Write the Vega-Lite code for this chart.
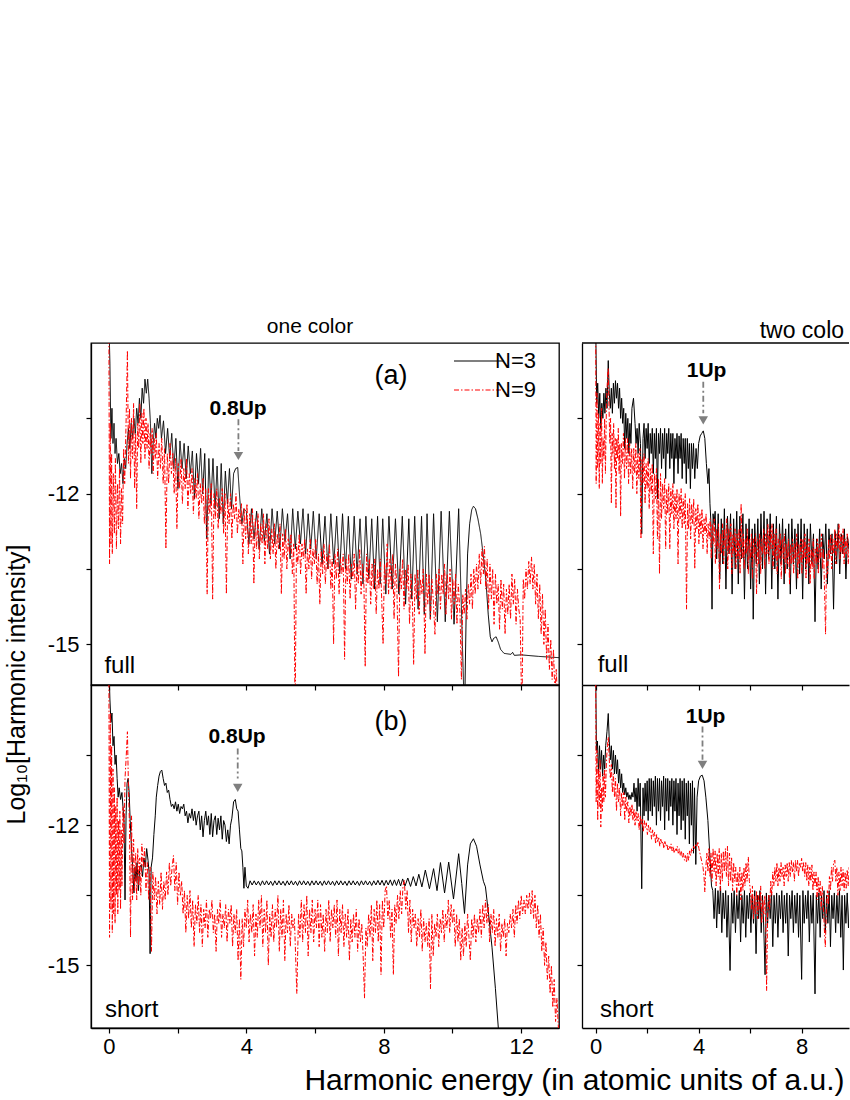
{
"$schema":"https://vega.github.io/schema/vega-lite/v6.json",
"background":"white",
"padding":{"top":315,"left":3,"right":0,"bottom":0},
"config":{
 "font":"Liberation Sans",
 "view":{"stroke":"black","strokeWidth":1.3},
 "axis":{"grid":false,"domainColor":"black","domainWidth":1.3,"tickColor":"black","tickWidth":1.2,"tickSize":5,"labelFont":"Liberation Sans","labelFontSize":22,"labelColor":"black","labelPadding":6,"titleFont":"Liberation Sans","titleFontWeight":"normal","titleColor":"black"},
 "title":{"font":"Liberation Sans","fontWeight":"normal","color":"black","fontSize":21},
 "legend":{"orient":"none","legendX":377,"legendY":7,"symbolType":"M-5,0H5","symbolSize":100,"symbolStrokeWidth":1.2,"labelFontSize":22,"labelFont":"Liberation Sans","labelColor":"black","labelOffset":5,"rowPadding":7,"padding":0}
},
"datasets":{
"a3":[{"x":0,"y":-8.5},{"x":0.03,"y":-9.4},{"x":0.06,"y":-10.9},{"x":0.09,"y":-10.3},{"x":0.12,"y":-11.0},{"x":0.15,"y":-10.6},{"x":0.18,"y":-11.2},{"x":0.21,"y":-10.9},{"x":0.25,"y":-11.4},{"x":0.29,"y":-11.2},{"x":0.33,"y":-11.6},{"x":0.37,"y":-11.4},{"x":0.41,"y":-11.8},{"x":0.45,"y":-11.3},{"x":0.49,"y":-11.5},{"x":0.53,"y":-11.0},{"x":0.57,"y":-10.7},{"x":0.61,"y":-11.1},{"x":0.65,"y":-10.6},{"x":0.69,"y":-10.9},{"x":0.73,"y":-10.5},{"x":0.77,"y":-10.8},{"x":0.81,"y":-10.3},{"x":0.85,"y":-10.6},{"x":0.89,"y":-10.1},{"x":0.93,"y":-10.5},{"x":0.97,"y":-9.9},{"x":1.01,"y":-10.2},{"x":1.05,"y":-9.72},{"x":1.09,"y":-10.0},{"x":1.13,"y":-9.72},{"x":1.17,"y":-10.1},{"x":1.21,"y":-10.6},{"x":1.25,"y":-11.6},{"x":1.29,"y":-11.0},{"x":1.33,"y":-10.6},{"x":1.37,"y":-10.9},{"x":1.41,"y":-10.5},{"x":1.45,"y":-10.7},{"x":1.49,"y":-10.44},{"x":1.53,"y":-10.9},{"x":1.59,"y":-10.55},{"x":1.65,"y":-11.2},{"x":1.71,"y":-10.7},{"x":1.77,"y":-11.3},{"x":1.83,"y":-10.8},{"x":1.89,"y":-11.5},{"x":1.95,"y":-10.9},{"x":2.01,"y":-11.9},{"x":2.07,"y":-10.95},{"x":2.13,"y":-11.5},{"x":2.19,"y":-11.0},{"x":2.25,"y":-11.7},{"x":2.31,"y":-11.05},{"x":2.37,"y":-11.6},{"x":2.43,"y":-11.15},{"x":2.49,"y":-12.1},{"x":2.55,"y":-11.2},{"x":2.61,"y":-11.8},{"x":2.67,"y":-11.1},{"x":2.73,"y":-12.0},{"x":2.79,"y":-11.2},{"x":2.85,"y":-12.9},{"x":2.91,"y":-11.3},{"x":2.97,"y":-12.2},{"x":3.03,"y":-11.3},{"x":3.09,"y":-12.3},{"x":3.15,"y":-11.45},{"x":3.21,"y":-12.5},{"x":3.27,"y":-11.4},{"x":3.33,"y":-12.6},{"x":3.39,"y":-11.55},{"x":3.45,"y":-12.2},{"x":3.51,"y":-11.5},{"x":3.57,"y":-12.3},{"x":3.63,"y":-11.6},{"x":3.69,"y":-11.5},{"x":3.75,"y":-11.48},{"x":3.81,"y":-12.1},{"x":3.87,"y":-12.6},{"x":3.93,"y":-12.3},{"x":4.0,"y":-12.35},{"x":4.075,"y":-13.0},{"x":4.15,"y":-12.3},{"x":4.225,"y":-12.9},{"x":4.3,"y":-12.35},{"x":4.375,"y":-13.1},{"x":4.45,"y":-12.3},{"x":4.525,"y":-12.95},{"x":4.6,"y":-12.4},{"x":4.675,"y":-13.2},{"x":4.75,"y":-12.3},{"x":4.825,"y":-13.0},{"x":4.9,"y":-12.35},{"x":4.975,"y":-13.1},{"x":5.05,"y":-12.3},{"x":5.125,"y":-12.95},{"x":5.2,"y":-12.4},{"x":5.275,"y":-13.3},{"x":5.35,"y":-12.3},{"x":5.425,"y":-13.1},{"x":5.5,"y":-12.35},{"x":5.575,"y":-13.0},{"x":5.65,"y":-12.3},{"x":5.725,"y":-13.2},{"x":5.8,"y":-12.4},{"x":5.875,"y":-13.1},{"x":5.95,"y":-12.35},{"x":6.035,"y":-13.3},{"x":6.12,"y":-12.4},{"x":6.205,"y":-13.4},{"x":6.29,"y":-12.45},{"x":6.375,"y":-13.5},{"x":6.46,"y":-12.4},{"x":6.545,"y":-13.4},{"x":6.63,"y":-12.45},{"x":6.715,"y":-13.6},{"x":6.8,"y":-12.4},{"x":6.885,"y":-13.5},{"x":6.97,"y":-12.45},{"x":7.055,"y":-13.7},{"x":7.14,"y":-12.45},{"x":7.225,"y":-13.6},{"x":7.31,"y":-12.5},{"x":7.395,"y":-13.8},{"x":7.48,"y":-12.45},{"x":7.565,"y":-13.7},{"x":7.65,"y":-12.5},{"x":7.735,"y":-13.9},{"x":7.82,"y":-12.45},{"x":7.895,"y":-13.8},{"x":7.97,"y":-12.5},{"x":8.06,"y":-14.0},{"x":8.15,"y":-12.45},{"x":8.245,"y":-13.9},{"x":8.34,"y":-12.5},{"x":8.44,"y":-14.0},{"x":8.54,"y":-12.45},{"x":8.635,"y":-14.2},{"x":8.73,"y":-12.5},{"x":8.815,"y":-14.1},{"x":8.9,"y":-12.45},{"x":9.0,"y":-14.3},{"x":9.1,"y":-12.45},{"x":9.18,"y":-14.4},{"x":9.26,"y":-12.4},{"x":9.355,"y":-14.5},{"x":9.45,"y":-12.4},{"x":9.56,"y":-14.55},{"x":9.67,"y":-12.35},{"x":9.79,"y":-14.55},{"x":9.91,"y":-12.35},{"x":10.045,"y":-14.6},{"x":10.18,"y":-12.3},{"x":10.35,"y":-16.5},{"x":10.4,"y":-14.3},{"x":10.44,"y":-13.2},{"x":10.5,"y":-12.6},{"x":10.56,"y":-12.32},{"x":10.61,"y":-12.25},{"x":10.67,"y":-12.3},{"x":10.74,"y":-12.5},{"x":10.82,"y":-12.8},{"x":10.9,"y":-13.25},{"x":10.97,"y":-13.7},{"x":11.04,"y":-14.4},{"x":11.1,"y":-14.85},{"x":11.15,"y":-14.95},{"x":11.2,"y":-14.88},{"x":11.27,"y":-14.85},{"x":11.33,"y":-14.95},{"x":11.4,"y":-15.1},{"x":11.5,"y":-15.18},{"x":11.7,"y":-15.2},{"x":11.75,"y":-15.16},{"x":11.8,"y":-15.22},{"x":12.0,"y":-15.21},{"x":12.5,"y":-15.24},{"x":13.2,"y":-15.27}],
"a9":[{"x":0,"y":-8.5},{"x":0.02,"y":-13.4},{"x":0.04,"y":-10.6},{"x":0.06,"y":-13.0},{"x":0.08,"y":-11.2},{"x":0.1,"y":-13.2},{"x":0.13,"y":-11.6},{"x":0.16,"y":-12.8},{"x":0.19,"y":-11.3},{"x":0.22,"y":-13.1},{"x":0.25,"y":-11.8},{"x":0.28,"y":-12.7},{"x":0.31,"y":-11.5},{"x":0.34,"y":-13.0},{"x":0.37,"y":-11.9},{"x":0.4,"y":-12.6},{"x":0.43,"y":-11.1},{"x":0.46,"y":-11.8},{"x":0.5,"y":-10.6},{"x":0.54,"y":-9.15},{"x":0.57,"y":-11.4},{"x":0.6,"y":-10.3},{"x":0.63,"y":-11.7},{"x":0.66,"y":-10.5},{"x":0.69,"y":-11.3},{"x":0.72,"y":-10.2},{"x":0.75,"y":-11.9},{"x":0.78,"y":-10.8},{"x":0.81,"y":-12.3},{"x":0.84,"y":-10.6},{"x":0.87,"y":-11.1},{"x":0.9,"y":-10.2},{"x":0.93,"y":-11.4},{"x":0.96,"y":-10.4},{"x":0.99,"y":-11.0},{"x":1.02,"y":-10.3},{"x":1.05,"y":-11.3},{"x":1.08,"y":-10.5},{"x":1.11,"y":-11.1},{"x":1.14,"y":-10.6},{"x":1.17,"y":-11.5},{"x":1.2,"y":-10.8},{"x":1.23,"y":-11.2},{"x":1.26,"y":-10.7},{"x":1.29,"y":-11.6},{"x":1.32,"y":-10.9},{"x":1.35,"y":-11.3},{"x":1.38,"y":-10.8},{"x":1.42,"y":-11.7},{"x":1.46,"y":-11.0},{"x":1.5,"y":-11.5},{"x":1.54,"y":-10.9},{"x":1.58,"y":-11.8},{"x":1.62,"y":-11.1},{"x":1.66,"y":-13.1},{"x":1.7,"y":-11.2},{"x":1.74,"y":-11.8},{"x":1.78,"y":-11.0},{"x":1.82,"y":-11.6},{"x":1.86,"y":-11.2},{"x":1.9,"y":-12.0},{"x":1.94,"y":-11.3},{"x":1.98,"y":-12.7},{"x":2.02,"y":-11.4},{"x":2.06,"y":-11.9},{"x":2.1,"y":-11.3},{"x":2.14,"y":-12.2},{"x":2.18,"y":-11.5},{"x":2.22,"y":-11.9},{"x":2.26,"y":-11.3},{"x":2.3,"y":-12.3},{"x":2.34,"y":-11.6},{"x":2.38,"y":-12.0},{"x":2.42,"y":-11.5},{"x":2.46,"y":-12.4},{"x":2.5,"y":-11.7},{"x":2.54,"y":-12.1},{"x":2.58,"y":-11.6},{"x":2.62,"y":-12.5},{"x":2.66,"y":-11.8},{"x":2.7,"y":-12.2},{"x":2.74,"y":-11.7},{"x":2.78,"y":-12.6},{"x":2.82,"y":-11.9},{"x":2.86,"y":-14.0},{"x":2.9,"y":-11.9},{"x":2.94,"y":-12.4},{"x":2.98,"y":-11.8},{"x":3.02,"y":-14.1},{"x":3.06,"y":-12.0},{"x":3.1,"y":-12.5},{"x":3.14,"y":-11.9},{"x":3.18,"y":-12.7},{"x":3.22,"y":-12.1},{"x":3.26,"y":-12.4},{"x":3.3,"y":-11.9},{"x":3.34,"y":-12.8},{"x":3.38,"y":-12.0},{"x":3.42,"y":-14.0},{"x":3.46,"y":-12.1},{"x":3.5,"y":-12.6},{"x":3.54,"y":-12.0},{"x":3.58,"y":-12.9},{"x":3.62,"y":-12.2},{"x":3.66,"y":-12.5},{"x":3.7,"y":-12.0},{"x":3.74,"y":-12.8},{"x":3.78,"y":-12.3},{"x":3.82,"y":-12.6},{"x":3.86,"y":-12.2},{"x":3.9,"y":-13.4},{"x":3.94,"y":-12.3},{"x":3.98,"y":-12.9},{"x":4.02,"y":-12.2},{"x":4.06,"y":-13.2},{"x":4.1,"y":-12.4},{"x":4.14,"y":-13.0},{"x":4.18,"y":-12.3},{"x":4.22,"y":-13.8},{"x":4.26,"y":-12.5},{"x":4.3,"y":-13.1},{"x":4.34,"y":-12.4},{"x":4.38,"y":-13.3},{"x":4.42,"y":-12.6},{"x":4.46,"y":-13.0},{"x":4.5,"y":-12.4},{"x":4.54,"y":-13.4},{"x":4.58,"y":-12.6},{"x":4.62,"y":-13.1},{"x":4.66,"y":-12.5},{"x":4.7,"y":-13.3},{"x":4.74,"y":-12.7},{"x":4.78,"y":-13.2},{"x":4.82,"y":-12.6},{"x":4.86,"y":-13.5},{"x":4.9,"y":-12.8},{"x":4.94,"y":-13.1},{"x":4.98,"y":-12.6},{"x":5.02,"y":-14.0},{"x":5.06,"y":-12.8},{"x":5.1,"y":-13.3},{"x":5.14,"y":-12.7},{"x":5.18,"y":-13.5},{"x":5.22,"y":-12.9},{"x":5.26,"y":-13.2},{"x":5.3,"y":-12.8},{"x":5.34,"y":-13.6},{"x":5.38,"y":-13.0},{"x":5.42,"y":-16.5},{"x":5.46,"y":-13.0},{"x":5.5,"y":-13.4},{"x":5.54,"y":-12.8},{"x":5.58,"y":-13.6},{"x":5.62,"y":-13.0},{"x":5.66,"y":-13.3},{"x":5.7,"y":-12.9},{"x":5.74,"y":-14.0},{"x":5.78,"y":-13.1},{"x":5.82,"y":-13.5},{"x":5.86,"y":-12.9},{"x":5.9,"y":-13.7},{"x":5.94,"y":-13.1},{"x":5.98,"y":-13.4},{"x":6.02,"y":-12.9},{"x":6.06,"y":-13.8},{"x":6.1,"y":-13.2},{"x":6.14,"y":-14.2},{"x":6.18,"y":-13.1},{"x":6.22,"y":-13.6},{"x":6.26,"y":-13.0},{"x":6.3,"y":-13.8},{"x":6.34,"y":-13.2},{"x":6.38,"y":-13.5},{"x":6.42,"y":-13.0},{"x":6.46,"y":-13.9},{"x":6.5,"y":-13.3},{"x":6.54,"y":-15.0},{"x":6.58,"y":-13.2},{"x":6.62,"y":-13.7},{"x":6.66,"y":-13.1},{"x":6.7,"y":-14.0},{"x":6.74,"y":-13.3},{"x":6.78,"y":-13.6},{"x":6.82,"y":-13.2},{"x":6.86,"y":-15.3},{"x":6.9,"y":-13.3},{"x":6.94,"y":-13.8},{"x":6.98,"y":-13.2},{"x":7.02,"y":-14.1},{"x":7.06,"y":-13.4},{"x":7.1,"y":-13.7},{"x":7.14,"y":-13.2},{"x":7.18,"y":-14.3},{"x":7.22,"y":-13.4},{"x":7.26,"y":-13.8},{"x":7.3,"y":-13.1},{"x":7.34,"y":-14.0},{"x":7.38,"y":-13.4},{"x":7.42,"y":-13.7},{"x":7.46,"y":-15.45},{"x":7.5,"y":-13.2},{"x":7.54,"y":-13.8},{"x":7.58,"y":-13.3},{"x":7.62,"y":-14.2},{"x":7.66,"y":-13.4},{"x":7.7,"y":-13.9},{"x":7.74,"y":-13.3},{"x":7.78,"y":-14.4},{"x":7.82,"y":-13.5},{"x":7.86,"y":-13.9},{"x":7.9,"y":-13.3},{"x":7.94,"y":-14.1},{"x":7.98,"y":-15.0},{"x":8.02,"y":-13.4},{"x":8.06,"y":-13.8},{"x":8.1,"y":-13.0},{"x":8.14,"y":-14.0},{"x":8.18,"y":-13.3},{"x":8.22,"y":-13.9},{"x":8.26,"y":-13.2},{"x":8.3,"y":-14.5},{"x":8.34,"y":-13.4},{"x":8.38,"y":-13.8},{"x":8.43,"y":-15.65},{"x":8.47,"y":-13.5},{"x":8.51,"y":-13.9},{"x":8.55,"y":-13.3},{"x":8.59,"y":-14.3},{"x":8.63,"y":-13.5},{"x":8.67,"y":-13.9},{"x":8.71,"y":-13.4},{"x":8.75,"y":-14.6},{"x":8.79,"y":-13.6},{"x":8.83,"y":-14.0},{"x":8.87,"y":-15.4},{"x":8.91,"y":-13.6},{"x":8.95,"y":-14.1},{"x":8.99,"y":-13.5},{"x":9.03,"y":-14.4},{"x":9.07,"y":-13.7},{"x":9.11,"y":-14.0},{"x":9.15,"y":-13.5},{"x":9.2,"y":-15.2},{"x":9.24,"y":-13.6},{"x":9.28,"y":-14.2},{"x":9.32,"y":-13.6},{"x":9.36,"y":-14.5},{"x":9.4,"y":-13.7},{"x":9.44,"y":-14.1},{"x":9.49,"y":-14.8},{"x":9.53,"y":-13.6},{"x":9.57,"y":-14.0},{"x":9.61,"y":-13.5},{"x":9.65,"y":-14.3},{"x":9.69,"y":-13.6},{"x":9.73,"y":-14.0},{"x":9.77,"y":-13.4},{"x":9.81,"y":-14.4},{"x":9.85,"y":-13.6},{"x":9.89,"y":-14.1},{"x":9.93,"y":-13.5},{"x":9.97,"y":-14.5},{"x":10.01,"y":-13.7},{"x":10.05,"y":-14.2},{"x":10.09,"y":-13.6},{"x":10.13,"y":-14.6},{"x":10.17,"y":-13.8},{"x":10.22,"y":-14.4},{"x":10.26,"y":-15.7},{"x":10.3,"y":-14.0},{"x":10.34,"y":-14.4},{"x":10.38,"y":-13.9},{"x":10.42,"y":-14.5},{"x":10.46,"y":-13.8},{"x":10.5,"y":-14.2},{"x":10.54,"y":-13.6},{"x":10.58,"y":-14.3},{"x":10.62,"y":-13.5},{"x":10.66,"y":-14.0},{"x":10.7,"y":-13.4},{"x":10.74,"y":-13.9},{"x":10.78,"y":-13.2},{"x":10.82,"y":-13.8},{"x":10.86,"y":-13.1},{"x":10.9,"y":-13.6},{"x":10.93,"y":-13.05},{"x":10.97,"y":-13.9},{"x":11.01,"y":-13.3},{"x":11.05,"y":-14.3},{"x":11.09,"y":-13.4},{"x":11.13,"y":-14.1},{"x":11.17,"y":-13.5},{"x":11.21,"y":-14.6},{"x":11.25,"y":-13.6},{"x":11.29,"y":-14.2},{"x":11.33,"y":-13.8},{"x":11.37,"y":-14.7},{"x":11.41,"y":-13.7},{"x":11.45,"y":-14.3},{"x":11.49,"y":-13.8},{"x":11.53,"y":-14.8},{"x":11.57,"y":-13.9},{"x":11.61,"y":-14.4},{"x":11.65,"y":-13.8},{"x":11.69,"y":-14.5},{"x":11.73,"y":-13.6},{"x":11.77,"y":-14.2},{"x":11.81,"y":-13.7},{"x":11.85,"y":-14.6},{"x":11.89,"y":-13.9},{"x":11.93,"y":-14.3},{"x":11.97,"y":-14.5},{"x":12.02,"y":-16.5},{"x":12.06,"y":-13.7},{"x":12.1,"y":-14.1},{"x":12.14,"y":-13.5},{"x":12.18,"y":-13.9},{"x":12.22,"y":-13.35},{"x":12.26,"y":-13.8},{"x":12.3,"y":-13.26},{"x":12.34,"y":-13.9},{"x":12.38,"y":-13.4},{"x":12.42,"y":-14.2},{"x":12.46,"y":-13.6},{"x":12.5,"y":-14.5},{"x":12.54,"y":-13.8},{"x":12.58,"y":-14.8},{"x":12.62,"y":-14.0},{"x":12.66,"y":-15.0},{"x":12.7,"y":-14.3},{"x":12.74,"y":-15.3},{"x":12.78,"y":-14.6},{"x":12.82,"y":-15.5},{"x":12.86,"y":-14.9},{"x":12.9,"y":-15.7},{"x":12.94,"y":-15.1},{"x":12.98,"y":-16.0},{"x":13.02,"y":-15.5},{"x":13.08,"y":-16.5}],
"b3":[{"x":0,"y":-8.5},{"x":0.03,"y":-9.3},{"x":0.06,"y":-9.8},{"x":0.09,"y":-9.6},{"x":0.12,"y":-10.3},{"x":0.15,"y":-10.1},{"x":0.18,"y":-10.7},{"x":0.21,"y":-10.5},{"x":0.24,"y":-11.0},{"x":0.27,"y":-11.4},{"x":0.3,"y":-11.2},{"x":0.34,"y":-11.45},{"x":0.38,"y":-11.3},{"x":0.41,"y":-11.6},{"x":0.44,"y":-11.9},{"x":0.47,"y":-13.6},{"x":0.5,"y":-11.8},{"x":0.53,"y":-11.1},{"x":0.56,"y":-11.0},{"x":0.59,"y":-11.3},{"x":0.62,"y":-11.9},{"x":0.66,"y":-12.5},{"x":0.7,"y":-13.0},{"x":0.73,"y":-13.45},{"x":0.76,"y":-12.9},{"x":0.79,"y":-13.2},{"x":0.82,"y":-12.8},{"x":0.86,"y":-13.4},{"x":0.9,"y":-12.9},{"x":0.94,"y":-12.85},{"x":0.98,"y":-13.1},{"x":1.02,"y":-12.7},{"x":1.06,"y":-12.9},{"x":1.1,"y":-12.5},{"x":1.14,"y":-12.75},{"x":1.17,"y":-13.0},{"x":1.2,"y":-14.75},{"x":1.23,"y":-12.9},{"x":1.27,"y":-12.7},{"x":1.31,"y":-12.2},{"x":1.35,"y":-11.8},{"x":1.38,"y":-11.4},{"x":1.42,"y":-11.15},{"x":1.46,"y":-10.95},{"x":1.5,"y":-10.85},{"x":1.54,"y":-10.82},{"x":1.58,"y":-11.0},{"x":1.62,"y":-11.15},{"x":1.66,"y":-11.1},{"x":1.7,"y":-11.3},{"x":1.74,"y":-11.25},{"x":1.78,"y":-11.45},{"x":1.82,"y":-11.6},{"x":1.86,"y":-11.55},{"x":1.9,"y":-11.65},{"x":1.94,"y":-11.5},{"x":1.98,"y":-11.7},{"x":2.02,"y":-11.55},{"x":2.06,"y":-11.75},{"x":2.1,"y":-11.6},{"x":2.14,"y":-11.65},{"x":2.18,"y":-11.55},{"x":2.22,"y":-11.8},{"x":2.26,"y":-11.7},{"x":2.3,"y":-11.95},{"x":2.34,"y":-11.75},{"x":2.38,"y":-11.85},{"x":2.42,"y":-11.65},{"x":2.46,"y":-11.9},{"x":2.5,"y":-11.7},{"x":2.54,"y":-12.0},{"x":2.58,"y":-11.8},{"x":2.62,"y":-11.7},{"x":2.66,"y":-12.1},{"x":2.7,"y":-11.8},{"x":2.74,"y":-12.25},{"x":2.78,"y":-11.9},{"x":2.82,"y":-11.7},{"x":2.86,"y":-12.0},{"x":2.9,"y":-11.8},{"x":2.94,"y":-12.2},{"x":2.98,"y":-11.75},{"x":3.02,"y":-12.25},{"x":3.06,"y":-11.9},{"x":3.1,"y":-11.8},{"x":3.14,"y":-12.2},{"x":3.18,"y":-11.85},{"x":3.22,"y":-12.1},{"x":3.26,"y":-11.8},{"x":3.3,"y":-12.3},{"x":3.34,"y":-11.9},{"x":3.38,"y":-12.0},{"x":3.42,"y":-12.35},{"x":3.46,"y":-12.1},{"x":3.5,"y":-12.4},{"x":3.54,"y":-12.0},{"x":3.58,"y":-11.85},{"x":3.63,"y":-11.5},{"x":3.68,"y":-11.45},{"x":3.72,"y":-11.65},{"x":3.76,"y":-11.7},{"x":3.8,"y":-12.1},{"x":3.84,"y":-12.5},{"x":3.87,"y":-12.55},{"x":3.9,"y":-12.9},{"x":3.93,"y":-13.35},{"x":3.96,"y":-12.9},{"x":4.0,"y":-13.3},{"x":4.05,"y":-13.35},{"x":4.11,"y":-13.19},{"x":4.17,"y":-13.28},{"x":4.23,"y":-13.19},{"x":4.29,"y":-13.28},{"x":4.35,"y":-13.2},{"x":4.41,"y":-13.29},{"x":4.47,"y":-13.19},{"x":4.53,"y":-13.28},{"x":4.59,"y":-13.19},{"x":4.65,"y":-13.28},{"x":4.71,"y":-13.2},{"x":4.77,"y":-13.29},{"x":4.83,"y":-13.19},{"x":4.89,"y":-13.28},{"x":4.95,"y":-13.19},{"x":5.01,"y":-13.28},{"x":5.07,"y":-13.2},{"x":5.13,"y":-13.29},{"x":5.19,"y":-13.19},{"x":5.25,"y":-13.28},{"x":5.31,"y":-13.19},{"x":5.37,"y":-13.28},{"x":5.43,"y":-13.2},{"x":5.49,"y":-13.29},{"x":5.55,"y":-13.19},{"x":5.61,"y":-13.28},{"x":5.67,"y":-13.19},{"x":5.73,"y":-13.28},{"x":5.79,"y":-13.2},{"x":5.85,"y":-13.29},{"x":5.91,"y":-13.19},{"x":5.97,"y":-13.28},{"x":6.03,"y":-13.19},{"x":6.09,"y":-13.28},{"x":6.15,"y":-13.2},{"x":6.21,"y":-13.29},{"x":6.27,"y":-13.19},{"x":6.33,"y":-13.28},{"x":6.39,"y":-13.19},{"x":6.45,"y":-13.28},{"x":6.51,"y":-13.2},{"x":6.57,"y":-13.29},{"x":6.63,"y":-13.19},{"x":6.69,"y":-13.28},{"x":6.75,"y":-13.19},{"x":6.81,"y":-13.28},{"x":6.87,"y":-13.2},{"x":6.93,"y":-13.29},{"x":6.99,"y":-13.19},{"x":7.05,"y":-13.28},{"x":7.11,"y":-13.19},{"x":7.17,"y":-13.28},{"x":7.23,"y":-13.2},{"x":7.29,"y":-13.29},{"x":7.35,"y":-13.19},{"x":7.41,"y":-13.28},{"x":7.47,"y":-13.19},{"x":7.53,"y":-13.28},{"x":7.59,"y":-13.2},{"x":7.65,"y":-13.29},{"x":7.71,"y":-13.19},{"x":7.77,"y":-13.28},{"x":7.83,"y":-13.18},{"x":7.89,"y":-13.28},{"x":7.95,"y":-13.18},{"x":8.01,"y":-13.29},{"x":8.07,"y":-13.18},{"x":8.13,"y":-13.28},{"x":8.19,"y":-13.17},{"x":8.25,"y":-13.29},{"x":8.31,"y":-13.17},{"x":8.37,"y":-13.29},{"x":8.43,"y":-13.16},{"x":8.49,"y":-13.3},{"x":8.55,"y":-13.15},{"x":8.62,"y":-13.3},{"x":8.7,"y":-13.13},{"x":8.78,"y":-13.31},{"x":8.86,"y":-13.1},{"x":8.94,"y":-13.3},{"x":9.02,"y":-13.05},{"x":9.11,"y":-13.32},{"x":9.21,"y":-12.96},{"x":9.33,"y":-13.36},{"x":9.45,"y":-12.93},{"x":9.55,"y":-13.4},{"x":9.65,"y":-12.8},{"x":9.77,"y":-13.45},{"x":9.89,"y":-12.79},{"x":10.03,"y":-13.58},{"x":10.18,"y":-12.61},{"x":10.27,"y":-13.25},{"x":10.35,"y":-13.89},{"x":10.44,"y":-12.85},{"x":10.52,"y":-12.4},{"x":10.61,"y":-12.29},{"x":10.7,"y":-12.45},{"x":10.8,"y":-12.85},{"x":10.9,"y":-13.2},{"x":10.96,"y":-13.32},{"x":11.05,"y":-13.9},{"x":11.15,"y":-14.61},{"x":11.25,"y":-15.5},{"x":11.34,"y":-16.4}],
"b9":[{"x":0,"y":-8.5},{"x":0.02,"y":-14.4},{"x":0.04,"y":-9.6},{"x":0.06,"y":-13.8},{"x":0.08,"y":-10.3},{"x":0.1,"y":-14.3},{"x":0.12,"y":-10.8},{"x":0.14,"y":-13.9},{"x":0.16,"y":-11.2},{"x":0.18,"y":-14.1},{"x":0.2,"y":-11.6},{"x":0.22,"y":-13.5},{"x":0.24,"y":-11.4},{"x":0.26,"y":-13.9},{"x":0.28,"y":-11.9},{"x":0.3,"y":-13.4},{"x":0.32,"y":-11.7},{"x":0.34,"y":-13.8},{"x":0.36,"y":-12.1},{"x":0.38,"y":-13.3},{"x":0.41,"y":-11.6},{"x":0.44,"y":-12.4},{"x":0.47,"y":-11.0},{"x":0.5,"y":-10.6},{"x":0.54,"y":-10.0},{"x":0.57,"y":-11.2},{"x":0.6,"y":-12.0},{"x":0.63,"y":-14.4},{"x":0.66,"y":-11.8},{"x":0.69,"y":-13.6},{"x":0.72,"y":-12.3},{"x":0.75,"y":-13.4},{"x":0.78,"y":-12.6},{"x":0.81,"y":-13.6},{"x":0.84,"y":-12.5},{"x":0.87,"y":-13.3},{"x":0.9,"y":-12.7},{"x":0.93,"y":-13.5},{"x":0.96,"y":-12.4},{"x":1.0,"y":-12.9},{"x":1.04,"y":-12.5},{"x":1.08,"y":-13.4},{"x":1.12,"y":-12.8},{"x":1.16,"y":-13.6},{"x":1.2,"y":-12.9},{"x":1.24,"y":-14.7},{"x":1.28,"y":-13.0},{"x":1.32,"y":-13.6},{"x":1.36,"y":-13.1},{"x":1.4,"y":-13.9},{"x":1.44,"y":-13.2},{"x":1.48,"y":-13.7},{"x":1.52,"y":-13.0},{"x":1.56,"y":-13.8},{"x":1.6,"y":-13.2},{"x":1.64,"y":-13.6},{"x":1.68,"y":-13.0},{"x":1.72,"y":-13.5},{"x":1.76,"y":-12.8},{"x":1.8,"y":-13.3},{"x":1.84,"y":-12.9},{"x":1.88,"y":-12.65},{"x":1.92,"y":-13.4},{"x":1.96,"y":-12.8},{"x":2.0,"y":-13.7},{"x":2.04,"y":-13.0},{"x":2.08,"y":-13.5},{"x":2.12,"y":-13.2},{"x":2.16,"y":-13.9},{"x":2.2,"y":-13.4},{"x":2.24,"y":-14.3},{"x":2.28,"y":-13.5},{"x":2.32,"y":-14.0},{"x":2.36,"y":-13.4},{"x":2.4,"y":-14.2},{"x":2.44,"y":-13.6},{"x":2.48,"y":-14.6},{"x":2.52,"y":-13.7},{"x":2.56,"y":-14.1},{"x":2.6,"y":-13.5},{"x":2.64,"y":-14.3},{"x":2.68,"y":-13.7},{"x":2.72,"y":-14.6},{"x":2.76,"y":-13.8},{"x":2.8,"y":-14.2},{"x":2.84,"y":-13.6},{"x":2.88,"y":-14.4},{"x":2.92,"y":-13.8},{"x":2.96,"y":-14.0},{"x":3.0,"y":-13.6},{"x":3.04,"y":-14.3},{"x":3.08,"y":-13.9},{"x":3.12,"y":-14.7},{"x":3.16,"y":-13.8},{"x":3.2,"y":-14.1},{"x":3.24,"y":-13.6},{"x":3.28,"y":-14.4},{"x":3.32,"y":-13.9},{"x":3.36,"y":-14.2},{"x":3.4,"y":-13.7},{"x":3.44,"y":-14.5},{"x":3.48,"y":-13.8},{"x":3.52,"y":-14.1},{"x":3.56,"y":-13.7},{"x":3.6,"y":-14.6},{"x":3.64,"y":-13.9},{"x":3.68,"y":-14.3},{"x":3.72,"y":-13.8},{"x":3.76,"y":-14.9},{"x":3.8,"y":-14.0},{"x":3.84,"y":-15.3},{"x":3.88,"y":-14.0},{"x":3.92,"y":-14.6},{"x":3.96,"y":-13.8},{"x":4.0,"y":-14.2},{"x":4.04,"y":-13.6},{"x":4.08,"y":-14.5},{"x":4.12,"y":-13.9},{"x":4.16,"y":-14.3},{"x":4.2,"y":-13.7},{"x":4.24,"y":-14.8},{"x":4.28,"y":-13.9},{"x":4.32,"y":-14.4},{"x":4.36,"y":-13.6},{"x":4.4,"y":-14.2},{"x":4.44,"y":-13.5},{"x":4.48,"y":-14.6},{"x":4.52,"y":-13.8},{"x":4.56,"y":-14.3},{"x":4.6,"y":-13.6},{"x":4.64,"y":-15.0},{"x":4.68,"y":-13.9},{"x":4.72,"y":-14.4},{"x":4.76,"y":-13.7},{"x":4.8,"y":-14.5},{"x":4.84,"y":-13.8},{"x":4.88,"y":-14.2},{"x":4.92,"y":-13.5},{"x":4.96,"y":-14.7},{"x":5.0,"y":-13.8},{"x":5.04,"y":-14.4},{"x":5.08,"y":-13.6},{"x":5.12,"y":-14.9},{"x":5.16,"y":-13.9},{"x":5.2,"y":-14.3},{"x":5.24,"y":-13.7},{"x":5.28,"y":-14.6},{"x":5.32,"y":-13.9},{"x":5.36,"y":-14.2},{"x":5.4,"y":-14.0},{"x":5.47,"y":-15.6},{"x":5.52,"y":-13.9},{"x":5.56,"y":-14.4},{"x":5.6,"y":-13.6},{"x":5.64,"y":-14.5},{"x":5.68,"y":-13.7},{"x":5.72,"y":-14.3},{"x":5.76,"y":-13.5},{"x":5.8,"y":-14.8},{"x":5.84,"y":-13.8},{"x":5.88,"y":-14.3},{"x":5.92,"y":-13.6},{"x":5.96,"y":-14.5},{"x":6.0,"y":-13.8},{"x":6.04,"y":-14.2},{"x":6.08,"y":-13.6},{"x":6.12,"y":-14.6},{"x":6.16,"y":-13.7},{"x":6.2,"y":-14.4},{"x":6.24,"y":-13.9},{"x":6.28,"y":-14.7},{"x":6.32,"y":-13.8},{"x":6.36,"y":-14.3},{"x":6.4,"y":-13.6},{"x":6.44,"y":-14.5},{"x":6.48,"y":-13.8},{"x":6.52,"y":-14.2},{"x":6.56,"y":-13.7},{"x":6.6,"y":-14.4},{"x":6.64,"y":-13.6},{"x":6.68,"y":-14.8},{"x":6.72,"y":-13.8},{"x":6.76,"y":-14.3},{"x":6.8,"y":-13.7},{"x":6.84,"y":-14.6},{"x":6.88,"y":-13.9},{"x":6.92,"y":-14.4},{"x":6.96,"y":-13.8},{"x":7.0,"y":-14.9},{"x":7.04,"y":-14.0},{"x":7.08,"y":-14.5},{"x":7.12,"y":-13.9},{"x":7.16,"y":-14.4},{"x":7.2,"y":-13.8},{"x":7.24,"y":-14.7},{"x":7.28,"y":-14.0},{"x":7.32,"y":-14.5},{"x":7.36,"y":-14.1},{"x":7.4,"y":-14.8},{"x":7.44,"y":-15.7},{"x":7.48,"y":-14.2},{"x":7.52,"y":-14.6},{"x":7.56,"y":-13.9},{"x":7.6,"y":-14.4},{"x":7.64,"y":-13.7},{"x":7.68,"y":-14.9},{"x":7.72,"y":-13.8},{"x":7.76,"y":-14.3},{"x":7.8,"y":-13.6},{"x":7.84,"y":-14.5},{"x":7.88,"y":-13.7},{"x":7.92,"y":-15.2},{"x":7.96,"y":-13.6},{"x":8.0,"y":-14.2},{"x":8.04,"y":-13.4},{"x":8.08,"y":-13.3},{"x":8.12,"y":-14.0},{"x":8.16,"y":-13.6},{"x":8.2,"y":-14.4},{"x":8.24,"y":-13.8},{"x":8.28,"y":-15.2},{"x":8.32,"y":-13.7},{"x":8.36,"y":-14.1},{"x":8.4,"y":-13.5},{"x":8.44,"y":-14.0},{"x":8.48,"y":-13.4},{"x":8.52,"y":-13.9},{"x":8.56,"y":-13.3},{"x":8.6,"y":-13.18},{"x":8.64,"y":-13.8},{"x":8.68,"y":-13.4},{"x":8.72,"y":-14.3},{"x":8.76,"y":-13.6},{"x":8.8,"y":-14.5},{"x":8.84,"y":-13.8},{"x":8.88,"y":-14.2},{"x":8.92,"y":-13.9},{"x":8.96,"y":-14.6},{"x":9.0,"y":-14.0},{"x":9.04,"y":-14.4},{"x":9.08,"y":-13.8},{"x":9.12,"y":-14.7},{"x":9.16,"y":-14.0},{"x":9.2,"y":-14.5},{"x":9.24,"y":-14.1},{"x":9.28,"y":-14.6},{"x":9.32,"y":-14.0},{"x":9.36,"y":-15.5},{"x":9.4,"y":-13.9},{"x":9.44,"y":-14.8},{"x":9.48,"y":-14.1},{"x":9.52,"y":-14.4},{"x":9.56,"y":-13.9},{"x":9.6,"y":-14.6},{"x":9.64,"y":-14.0},{"x":9.68,"y":-14.3},{"x":9.72,"y":-13.8},{"x":9.76,"y":-14.5},{"x":9.8,"y":-13.9},{"x":9.84,"y":-14.2},{"x":9.88,"y":-13.6},{"x":9.92,"y":-14.3},{"x":9.96,"y":-13.7},{"x":10.0,"y":-14.1},{"x":10.04,"y":-13.8},{"x":10.08,"y":-14.6},{"x":10.12,"y":-13.9},{"x":10.16,"y":-14.5},{"x":10.2,"y":-14.0},{"x":10.24,"y":-14.9},{"x":10.28,"y":-14.2},{"x":10.32,"y":-14.8},{"x":10.36,"y":-14.1},{"x":10.4,"y":-14.6},{"x":10.44,"y":-13.9},{"x":10.48,"y":-14.4},{"x":10.52,"y":-14.9},{"x":10.56,"y":-14.0},{"x":10.6,"y":-14.4},{"x":10.64,"y":-13.9},{"x":10.68,"y":-14.5},{"x":10.72,"y":-14.0},{"x":10.76,"y":-14.3},{"x":10.8,"y":-13.8},{"x":10.84,"y":-14.4},{"x":10.88,"y":-13.7},{"x":10.92,"y":-14.2},{"x":10.96,"y":-13.6},{"x":11.0,"y":-14.1},{"x":11.04,"y":-13.7},{"x":11.08,"y":-14.5},{"x":11.12,"y":-13.9},{"x":11.16,"y":-14.3},{"x":11.2,"y":-13.8},{"x":11.24,"y":-14.6},{"x":11.28,"y":-14.0},{"x":11.32,"y":-14.4},{"x":11.36,"y":-13.9},{"x":11.4,"y":-14.7},{"x":11.44,"y":-14.1},{"x":11.48,"y":-14.4},{"x":11.52,"y":-14.0},{"x":11.56,"y":-14.8},{"x":11.6,"y":-14.1},{"x":11.64,"y":-14.3},{"x":11.68,"y":-13.9},{"x":11.72,"y":-14.2},{"x":11.76,"y":-13.8},{"x":11.8,"y":-14.4},{"x":11.84,"y":-13.7},{"x":11.88,"y":-14.1},{"x":11.92,"y":-13.6},{"x":11.96,"y":-14.0},{"x":12.0,"y":-13.5},{"x":12.04,"y":-13.9},{"x":12.08,"y":-13.6},{"x":12.12,"y":-13.9},{"x":12.16,"y":-13.5},{"x":12.2,"y":-13.8},{"x":12.24,"y":-13.45},{"x":12.28,"y":-13.9},{"x":12.32,"y":-13.4},{"x":12.36,"y":-14.0},{"x":12.4,"y":-13.5},{"x":12.44,"y":-14.2},{"x":12.48,"y":-13.7},{"x":12.52,"y":-14.4},{"x":12.56,"y":-13.9},{"x":12.6,"y":-14.7},{"x":12.64,"y":-14.2},{"x":12.68,"y":-15.0},{"x":12.72,"y":-14.5},{"x":12.76,"y":-15.3},{"x":12.8,"y":-14.8},{"x":12.84,"y":-15.6},{"x":12.88,"y":-15.0},{"x":12.92,"y":-15.9},{"x":12.96,"y":-15.3},{"x":13.0,"y":-16.2},{"x":13.04,"y":-15.7},{"x":13.1,"y":-16.6}],
"c3":[{"x":0,"y":-8.5},{"x":0.04,"y":-10.2},{"x":0.08,"y":-9.8},{"x":0.12,"y":-10.5},{"x":0.16,"y":-10.0},{"x":0.2,"y":-10.7},{"x":0.24,"y":-10.2},{"x":0.28,"y":-10.5},{"x":0.32,"y":-10.0},{"x":0.36,"y":-10.4},{"x":0.4,"y":-9.9},{"x":0.44,"y":-10.3},{"x":0.49,"y":-9.35},{"x":0.53,"y":-10.0},{"x":0.57,"y":-10.3},{"x":0.61,"y":-9.9},{"x":0.65,"y":-10.4},{"x":0.69,"y":-9.8},{"x":0.73,"y":-10.2},{"x":0.77,"y":-9.75},{"x":0.81,"y":-10.1},{"x":0.85,"y":-9.8},{"x":0.89,"y":-10.3},{"x":0.93,"y":-9.9},{"x":0.97,"y":-10.5},{"x":1.01,"y":-10.1},{"x":1.05,"y":-10.6},{"x":1.09,"y":-10.3},{"x":1.13,"y":-11.1},{"x":1.17,"y":-10.4},{"x":1.21,"y":-10.9},{"x":1.25,"y":-10.5},{"x":1.29,"y":-11.2},{"x":1.33,"y":-10.6},{"x":1.37,"y":-11.0},{"x":1.41,"y":-10.3},{"x":1.47,"y":-10.1},{"x":1.53,"y":-10.6},{"x":1.57,"y":-11.0},{"x":1.61,"y":-10.7},{"x":1.65,"y":-11.2},{"x":1.69,"y":-10.6},{"x":1.74,"y":-11.0},{"x":1.79,"y":-12.8},{"x":1.84,"y":-10.9},{"x":1.88,"y":-10.6},{"x":1.92,"y":-11.3},{"x":1.96,"y":-10.7},{"x":2.0,"y":-11.1},{"x":2.04,"y":-10.6},{"x":2.08,"y":-11.4},{"x":2.12,"y":-10.8},{"x":2.16,"y":-11.2},{"x":2.2,"y":-10.7},{"x":2.24,"y":-11.6},{"x":2.28,"y":-10.8},{"x":2.32,"y":-11.3},{"x":2.36,"y":-10.7},{"x":2.4,"y":-12.1},{"x":2.44,"y":-10.8},{"x":2.48,"y":-11.2},{"x":2.52,"y":-10.7},{"x":2.56,"y":-11.5},{"x":2.6,"y":-10.8},{"x":2.64,"y":-11.3},{"x":2.68,"y":-10.7},{"x":2.72,"y":-11.7},{"x":2.76,"y":-10.8},{"x":2.8,"y":-11.2},{"x":2.84,"y":-10.7},{"x":2.88,"y":-11.5},{"x":2.92,"y":-10.8},{"x":2.96,"y":-11.3},{"x":3.0,"y":-10.8},{"x":3.04,"y":-11.8},{"x":3.08,"y":-10.9},{"x":3.12,"y":-11.3},{"x":3.16,"y":-10.8},{"x":3.2,"y":-11.6},{"x":3.24,"y":-10.85},{"x":3.28,"y":-11.3},{"x":3.32,"y":-10.8},{"x":3.36,"y":-11.7},{"x":3.4,"y":-10.9},{"x":3.44,"y":-11.4},{"x":3.48,"y":-10.9},{"x":3.52,"y":-11.8},{"x":3.56,"y":-10.9},{"x":3.6,"y":-11.5},{"x":3.64,"y":-11.0},{"x":3.68,"y":-11.9},{"x":3.72,"y":-11.0},{"x":3.76,"y":-11.5},{"x":3.8,"y":-11.0},{"x":3.85,"y":-11.7},{"x":3.9,"y":-11.1},{"x":3.95,"y":-11.5},{"x":4.0,"y":-11.0},{"x":4.06,"y":-10.85},{"x":4.12,"y":-10.8},{"x":4.18,"y":-10.75},{"x":4.24,"y":-10.9},{"x":4.3,"y":-11.4},{"x":4.36,"y":-11.8},{"x":4.4,"y":-11.5},{"x":4.44,"y":-12.2},{"x":4.48,"y":-12.6},{"x":4.52,"y":-14.3},{"x":4.56,"y":-12.4},{"x":4.6,"y":-12.6},{"x":4.64,"y":-12.35},{"x":4.7,"y":-13.3},{"x":4.76,"y":-12.4},{"x":4.82,"y":-13.7},{"x":4.88,"y":-12.5},{"x":4.94,"y":-13.4},{"x":5.0,"y":-12.3},{"x":5.06,"y":-13.9},{"x":5.12,"y":-12.45},{"x":5.18,"y":-13.2},{"x":5.24,"y":-12.4},{"x":5.3,"y":-14.0},{"x":5.36,"y":-12.5},{"x":5.42,"y":-13.5},{"x":5.48,"y":-12.35},{"x":5.54,"y":-13.8},{"x":5.6,"y":-12.45},{"x":5.66,"y":-13.3},{"x":5.72,"y":-12.4},{"x":5.78,"y":-14.1},{"x":5.84,"y":-12.6},{"x":5.9,"y":-13.5},{"x":5.96,"y":-12.5},{"x":6.02,"y":-13.9},{"x":6.08,"y":-12.7},{"x":6.12,"y":-14.5},{"x":6.18,"y":-12.6},{"x":6.24,"y":-13.4},{"x":6.3,"y":-12.5},{"x":6.36,"y":-13.8},{"x":6.42,"y":-12.4},{"x":6.48,"y":-13.5},{"x":6.54,"y":-12.35},{"x":6.6,"y":-14.0},{"x":6.66,"y":-12.5},{"x":6.72,"y":-13.3},{"x":6.78,"y":-12.4},{"x":6.84,"y":-13.9},{"x":6.9,"y":-12.6},{"x":6.96,"y":-13.5},{"x":7.02,"y":-12.45},{"x":7.08,"y":-14.1},{"x":7.14,"y":-12.6},{"x":7.2,"y":-13.4},{"x":7.26,"y":-12.5},{"x":7.32,"y":-13.8},{"x":7.38,"y":-12.7},{"x":7.44,"y":-13.5},{"x":7.5,"y":-12.6},{"x":7.56,"y":-14.0},{"x":7.62,"y":-12.5},{"x":7.68,"y":-13.4},{"x":7.74,"y":-12.7},{"x":7.8,"y":-13.9},{"x":7.86,"y":-12.6},{"x":7.92,"y":-13.6},{"x":7.98,"y":-12.5},{"x":8.04,"y":-14.1},{"x":8.1,"y":-12.6},{"x":8.16,"y":-13.5},{"x":8.22,"y":-12.7},{"x":8.28,"y":-13.8},{"x":8.34,"y":-12.6},{"x":8.4,"y":-13.4},{"x":8.46,"y":-12.8},{"x":8.52,"y":-14.55},{"x":8.58,"y":-12.9},{"x":8.64,"y":-13.5},{"x":8.7,"y":-12.7},{"x":8.76,"y":-13.9},{"x":8.82,"y":-12.8},{"x":8.88,"y":-13.3},{"x":8.94,"y":-12.6},{"x":9.0,"y":-13.8},{"x":9.06,"y":-12.7},{"x":9.12,"y":-13.2},{"x":9.18,"y":-12.8},{"x":9.24,"y":-14.3},{"x":9.3,"y":-12.75},{"x":9.36,"y":-13.4},{"x":9.42,"y":-12.6},{"x":9.48,"y":-13.6},{"x":9.54,"y":-12.8},{"x":9.6,"y":-13.2},{"x":9.66,"y":-12.7},{"x":9.72,"y":-13.7},{"x":9.78,"y":-12.85},{"x":9.84,"y":-13.1},{"x":9.9,"y":-12.8},{"x":9.96,"y":-13.3},{"x":10.02,"y":-12.7}],
"c9":[{"x":0,"y":-8.5},{"x":0.02,"y":-11.8},{"x":0.05,"y":-10.0},{"x":0.08,"y":-11.5},{"x":0.11,"y":-10.4},{"x":0.14,"y":-11.9},{"x":0.17,"y":-10.6},{"x":0.2,"y":-11.4},{"x":0.23,"y":-10.3},{"x":0.26,"y":-11.8},{"x":0.29,"y":-10.9},{"x":0.32,"y":-11.3},{"x":0.35,"y":-10.5},{"x":0.38,"y":-11.6},{"x":0.42,"y":-10.2},{"x":0.46,"y":-9.7},{"x":0.49,"y":-9.5},{"x":0.52,"y":-10.3},{"x":0.55,"y":-11.0},{"x":0.58,"y":-10.5},{"x":0.61,"y":-12.2},{"x":0.64,"y":-10.8},{"x":0.67,"y":-11.2},{"x":0.7,"y":-10.6},{"x":0.73,"y":-11.5},{"x":0.76,"y":-10.9},{"x":0.79,"y":-12.3},{"x":0.82,"y":-10.9},{"x":0.85,"y":-11.3},{"x":0.88,"y":-10.7},{"x":0.91,"y":-11.6},{"x":0.94,"y":-11.0},{"x":0.97,"y":-12.45},{"x":1.0,"y":-11.0},{"x":1.04,"y":-11.4},{"x":1.08,"y":-10.8},{"x":1.12,"y":-11.7},{"x":1.16,"y":-10.9},{"x":1.2,"y":-11.5},{"x":1.24,"y":-10.9},{"x":1.28,"y":-11.8},{"x":1.32,"y":-11.0},{"x":1.36,"y":-11.6},{"x":1.4,"y":-11.1},{"x":1.44,"y":-11.9},{"x":1.48,"y":-11.1},{"x":1.52,"y":-11.6},{"x":1.56,"y":-11.0},{"x":1.6,"y":-12.0},{"x":1.64,"y":-11.2},{"x":1.68,"y":-11.7},{"x":1.72,"y":-11.1},{"x":1.76,"y":-12.9},{"x":1.8,"y":-11.3},{"x":1.84,"y":-11.8},{"x":1.88,"y":-11.2},{"x":1.92,"y":-12.2},{"x":1.96,"y":-11.4},{"x":2.0,"y":-11.9},{"x":2.04,"y":-11.3},{"x":2.08,"y":-12.3},{"x":2.12,"y":-11.5},{"x":2.16,"y":-12.0},{"x":2.2,"y":-11.4},{"x":2.24,"y":-13.2},{"x":2.28,"y":-11.6},{"x":2.32,"y":-12.1},{"x":2.36,"y":-11.5},{"x":2.4,"y":-12.9},{"x":2.44,"y":-11.7},{"x":2.48,"y":-13.6},{"x":2.52,"y":-11.6},{"x":2.56,"y":-12.5},{"x":2.6,"y":-11.8},{"x":2.64,"y":-12.3},{"x":2.68,"y":-11.7},{"x":2.72,"y":-13.1},{"x":2.76,"y":-11.9},{"x":2.8,"y":-12.4},{"x":2.84,"y":-11.8},{"x":2.88,"y":-13.1},{"x":2.92,"y":-11.9},{"x":2.96,"y":-12.4},{"x":3.0,"y":-11.8},{"x":3.04,"y":-12.7},{"x":3.08,"y":-12.0},{"x":3.12,"y":-12.5},{"x":3.16,"y":-11.9},{"x":3.2,"y":-13.4},{"x":3.24,"y":-12.0},{"x":3.28,"y":-12.5},{"x":3.32,"y":-11.9},{"x":3.36,"y":-12.7},{"x":3.4,"y":-12.1},{"x":3.44,"y":-12.6},{"x":3.48,"y":-12.0},{"x":3.53,"y":-14.3},{"x":3.57,"y":-12.2},{"x":3.61,"y":-12.7},{"x":3.65,"y":-12.1},{"x":3.69,"y":-12.9},{"x":3.73,"y":-12.2},{"x":3.77,"y":-12.6},{"x":3.81,"y":-12.1},{"x":3.85,"y":-13.5},{"x":3.89,"y":-12.3},{"x":3.93,"y":-12.7},{"x":3.97,"y":-12.2},{"x":4.01,"y":-13.0},{"x":4.05,"y":-12.4},{"x":4.09,"y":-12.8},{"x":4.13,"y":-12.3},{"x":4.17,"y":-13.1},{"x":4.21,"y":-12.5},{"x":4.25,"y":-12.8},{"x":4.29,"y":-12.4},{"x":4.33,"y":-13.2},{"x":4.37,"y":-12.6},{"x":4.41,"y":-12.9},{"x":4.45,"y":-12.5},{"x":4.49,"y":-13.3},{"x":4.53,"y":-12.6},{"x":4.57,"y":-13.0},{"x":4.61,"y":-12.5},{"x":4.65,"y":-13.4},{"x":4.69,"y":-12.7},{"x":4.73,"y":-13.1},{"x":4.77,"y":-12.6},{"x":4.81,"y":-13.9},{"x":4.85,"y":-12.8},{"x":4.89,"y":-13.2},{"x":4.93,"y":-12.6},{"x":4.97,"y":-13.4},{"x":5.01,"y":-12.7},{"x":5.05,"y":-13.1},{"x":5.09,"y":-12.5},{"x":5.13,"y":-13.5},{"x":5.17,"y":-12.7},{"x":5.21,"y":-13.2},{"x":5.25,"y":-12.6},{"x":5.29,"y":-13.6},{"x":5.33,"y":-12.8},{"x":5.37,"y":-13.2},{"x":5.41,"y":-12.7},{"x":5.45,"y":-13.5},{"x":5.49,"y":-12.8},{"x":5.53,"y":-13.3},{"x":5.57,"y":-12.7},{"x":5.61,"y":-13.6},{"x":5.65,"y":-12.2},{"x":5.69,"y":-13.3},{"x":5.73,"y":-12.8},{"x":5.77,"y":-13.5},{"x":5.81,"y":-12.9},{"x":5.85,"y":-13.2},{"x":5.89,"y":-12.7},{"x":5.93,"y":-13.6},{"x":5.97,"y":-12.9},{"x":6.01,"y":-13.3},{"x":6.05,"y":-12.8},{"x":6.09,"y":-13.7},{"x":6.13,"y":-12.9},{"x":6.17,"y":-13.3},{"x":6.21,"y":-12.8},{"x":6.25,"y":-14.0},{"x":6.29,"y":-12.9},{"x":6.33,"y":-13.4},{"x":6.37,"y":-12.8},{"x":6.41,"y":-13.6},{"x":6.45,"y":-12.9},{"x":6.49,"y":-13.2},{"x":6.53,"y":-12.7},{"x":6.57,"y":-13.5},{"x":6.61,"y":-12.8},{"x":6.65,"y":-13.2},{"x":6.69,"y":-12.6},{"x":6.73,"y":-13.4},{"x":6.77,"y":-12.7},{"x":6.81,"y":-13.1},{"x":6.85,"y":-12.6},{"x":6.89,"y":-13.5},{"x":6.93,"y":-12.8},{"x":6.97,"y":-13.3},{"x":7.01,"y":-12.7},{"x":7.05,"y":-13.6},{"x":7.09,"y":-12.9},{"x":7.13,"y":-13.3},{"x":7.17,"y":-12.8},{"x":7.21,"y":-13.7},{"x":7.25,"y":-12.9},{"x":7.29,"y":-13.3},{"x":7.33,"y":-12.8},{"x":7.37,"y":-13.6},{"x":7.41,"y":-13.0},{"x":7.45,"y":-13.4},{"x":7.49,"y":-12.9},{"x":7.53,"y":-13.8},{"x":7.57,"y":-13.0},{"x":7.61,"y":-13.4},{"x":7.65,"y":-12.9},{"x":7.69,"y":-13.6},{"x":7.73,"y":-13.0},{"x":7.77,"y":-13.3},{"x":7.81,"y":-12.8},{"x":7.85,"y":-13.7},{"x":7.89,"y":-13.0},{"x":7.93,"y":-13.4},{"x":7.97,"y":-12.9},{"x":8.01,"y":-13.6},{"x":8.05,"y":-12.9},{"x":8.09,"y":-13.3},{"x":8.13,"y":-12.8},{"x":8.17,"y":-13.7},{"x":8.21,"y":-13.0},{"x":8.25,"y":-13.4},{"x":8.29,"y":-12.9},{"x":8.33,"y":-13.8},{"x":8.37,"y":-13.1},{"x":8.41,"y":-13.5},{"x":8.45,"y":-12.9},{"x":8.49,"y":-13.7},{"x":8.53,"y":-13.1},{"x":8.57,"y":-13.4},{"x":8.61,"y":-12.9},{"x":8.65,"y":-13.6},{"x":8.69,"y":-13.0},{"x":8.73,"y":-13.3},{"x":8.77,"y":-12.8},{"x":8.81,"y":-13.5},{"x":8.85,"y":-13.1},{"x":8.89,"y":-13.9},{"x":8.93,"y":-14.8},{"x":8.97,"y":-13.2},{"x":9.01,"y":-13.6},{"x":9.05,"y":-12.9},{"x":9.09,"y":-13.3},{"x":9.13,"y":-12.8},{"x":9.17,"y":-13.5},{"x":9.21,"y":-12.9},{"x":9.25,"y":-13.2},{"x":9.29,"y":-12.7},{"x":9.33,"y":-13.4},{"x":9.37,"y":-12.8},{"x":9.41,"y":-13.1},{"x":9.45,"y":-12.6},{"x":9.49,"y":-13.3},{"x":9.53,"y":-12.8},{"x":9.57,"y":-13.2},{"x":9.61,"y":-12.7},{"x":9.65,"y":-13.4},{"x":9.69,"y":-12.9},{"x":9.73,"y":-13.2},{"x":9.77,"y":-12.8},{"x":9.81,"y":-13.4},{"x":9.85,"y":-12.9},{"x":9.89,"y":-13.2},{"x":9.93,"y":-12.8},{"x":9.97,"y":-13.3},{"x":10.01,"y":-12.9}],
"d3":[{"x":0,"y":-8.5},{"x":0.03,"y":-10.4},{"x":0.07,"y":-10.2},{"x":0.11,"y":-10.9},{"x":0.15,"y":-10.3},{"x":0.19,"y":-10.8},{"x":0.23,"y":-10.4},{"x":0.27,"y":-10.95},{"x":0.31,"y":-10.5},{"x":0.35,"y":-10.8},{"x":0.39,"y":-10.3},{"x":0.44,"y":-10.0},{"x":0.49,"y":-9.61},{"x":0.53,"y":-10.2},{"x":0.57,"y":-10.6},{"x":0.61,"y":-10.3},{"x":0.65,"y":-10.8},{"x":0.69,"y":-10.4},{"x":0.73,"y":-10.9},{"x":0.77,"y":-10.5},{"x":0.81,"y":-10.9},{"x":0.85,"y":-10.6},{"x":0.89,"y":-11.1},{"x":0.93,"y":-10.8},{"x":0.97,"y":-11.2},{"x":1.01,"y":-10.9},{"x":1.05,"y":-11.3},{"x":1.09,"y":-11.1},{"x":1.13,"y":-11.35},{"x":1.17,"y":-11.2},{"x":1.21,"y":-11.4},{"x":1.25,"y":-11.3},{"x":1.29,"y":-11.45},{"x":1.33,"y":-11.35},{"x":1.37,"y":-11.45},{"x":1.41,"y":-11.3},{"x":1.45,"y":-11.4},{"x":1.49,"y":-11.1},{"x":1.53,"y":-11.5},{"x":1.57,"y":-11.2},{"x":1.61,"y":-11.7},{"x":1.65,"y":-11.0},{"x":1.69,"y":-11.6},{"x":1.73,"y":-11.1},{"x":1.79,"y":-13.36},{"x":1.84,"y":-11.2},{"x":1.88,"y":-11.8},{"x":1.92,"y":-11.1},{"x":1.96,"y":-11.7},{"x":2.0,"y":-11.05},{"x":2.04,"y":-11.9},{"x":2.08,"y":-11.0},{"x":2.12,"y":-11.7},{"x":2.16,"y":-11.0},{"x":2.2,"y":-11.8},{"x":2.24,"y":-11.05},{"x":2.28,"y":-11.6},{"x":2.32,"y":-10.95},{"x":2.36,"y":-12.0},{"x":2.4,"y":-11.0},{"x":2.44,"y":-11.7},{"x":2.48,"y":-11.0},{"x":2.52,"y":-11.9},{"x":2.56,"y":-11.05},{"x":2.6,"y":-11.6},{"x":2.64,"y":-10.95},{"x":2.68,"y":-12.1},{"x":2.72,"y":-11.0},{"x":2.76,"y":-11.7},{"x":2.8,"y":-11.0},{"x":2.84,"y":-11.9},{"x":2.88,"y":-11.05},{"x":2.92,"y":-11.6},{"x":2.96,"y":-11.0},{"x":3.0,"y":-12.0},{"x":3.04,"y":-11.05},{"x":3.08,"y":-11.7},{"x":3.12,"y":-11.0},{"x":3.16,"y":-12.2},{"x":3.2,"y":-11.1},{"x":3.24,"y":-11.8},{"x":3.28,"y":-11.0},{"x":3.32,"y":-12.1},{"x":3.36,"y":-11.05},{"x":3.4,"y":-11.9},{"x":3.44,"y":-11.0},{"x":3.48,"y":-12.3},{"x":3.52,"y":-11.1},{"x":3.56,"y":-11.8},{"x":3.6,"y":-11.05},{"x":3.64,"y":-12.4},{"x":3.68,"y":-11.1},{"x":3.72,"y":-12.0},{"x":3.76,"y":-11.05},{"x":3.8,"y":-12.6},{"x":3.84,"y":-11.2},{"x":3.89,"y":-12.84},{"x":3.94,"y":-11.4},{"x":4.0,"y":-11.05},{"x":4.07,"y":-10.95},{"x":4.14,"y":-10.93},{"x":4.21,"y":-11.05},{"x":4.28,"y":-11.4},{"x":4.36,"y":-11.9},{"x":4.43,"y":-12.6},{"x":4.5,"y":-13.3},{"x":4.55,"y":-13.4},{"x":4.6,"y":-14.0},{"x":4.65,"y":-13.35},{"x":4.7,"y":-14.2},{"x":4.75,"y":-13.4},{"x":4.8,"y":-13.9},{"x":4.85,"y":-13.3},{"x":4.9,"y":-14.3},{"x":4.95,"y":-13.45},{"x":5.0,"y":-14.0},{"x":5.05,"y":-13.4},{"x":5.1,"y":-14.4},{"x":5.15,"y":-13.5},{"x":5.22,"y":-15.11},{"x":5.28,"y":-13.45},{"x":5.33,"y":-14.1},{"x":5.38,"y":-13.4},{"x":5.43,"y":-14.3},{"x":5.48,"y":-13.5},{"x":5.53,"y":-14.0},{"x":5.58,"y":-13.4},{"x":5.63,"y":-14.5},{"x":5.68,"y":-13.5},{"x":5.73,"y":-14.1},{"x":5.78,"y":-13.4},{"x":5.83,"y":-14.4},{"x":5.88,"y":-13.5},{"x":5.93,"y":-14.0},{"x":5.98,"y":-13.45},{"x":6.03,"y":-14.3},{"x":6.08,"y":-13.5},{"x":6.13,"y":-14.1},{"x":6.18,"y":-13.4},{"x":6.23,"y":-14.75},{"x":6.28,"y":-13.5},{"x":6.33,"y":-14.0},{"x":6.38,"y":-13.4},{"x":6.43,"y":-14.3},{"x":6.48,"y":-13.5},{"x":6.53,"y":-14.2},{"x":6.58,"y":-15.2},{"x":6.63,"y":-13.45},{"x":6.68,"y":-14.1},{"x":6.73,"y":-13.5},{"x":6.78,"y":-14.0},{"x":6.83,"y":-13.4},{"x":6.88,"y":-14.6},{"x":6.93,"y":-13.5},{"x":6.98,"y":-14.1},{"x":7.03,"y":-13.45},{"x":7.08,"y":-14.4},{"x":7.13,"y":-13.5},{"x":7.18,"y":-14.0},{"x":7.23,"y":-13.4},{"x":7.28,"y":-14.3},{"x":7.33,"y":-13.5},{"x":7.38,"y":-14.1},{"x":7.43,"y":-13.45},{"x":7.48,"y":-14.8},{"x":7.53,"y":-13.5},{"x":7.58,"y":-14.0},{"x":7.63,"y":-13.4},{"x":7.68,"y":-14.3},{"x":7.73,"y":-13.5},{"x":7.78,"y":-14.1},{"x":7.83,"y":-13.45},{"x":7.88,"y":-14.4},{"x":7.93,"y":-13.5},{"x":8.0,"y":-15.3},{"x":8.05,"y":-13.4},{"x":8.1,"y":-14.1},{"x":8.15,"y":-13.5},{"x":8.2,"y":-14.0},{"x":8.25,"y":-13.4},{"x":8.3,"y":-14.5},{"x":8.35,"y":-13.5},{"x":8.4,"y":-14.1},{"x":8.45,"y":-13.45},{"x":8.52,"y":-15.61},{"x":8.57,"y":-13.5},{"x":8.62,"y":-14.1},{"x":8.67,"y":-13.45},{"x":8.72,"y":-14.4},{"x":8.77,"y":-13.5},{"x":8.82,"y":-14.0},{"x":8.87,"y":-13.4},{"x":8.92,"y":-14.3},{"x":8.97,"y":-13.5},{"x":9.02,"y":-14.1},{"x":9.07,"y":-13.4},{"x":9.12,"y":-14.6},{"x":9.17,"y":-13.5},{"x":9.22,"y":-14.0},{"x":9.27,"y":-13.45},{"x":9.32,"y":-14.3},{"x":9.37,"y":-13.5},{"x":9.42,"y":-14.1},{"x":9.47,"y":-13.4},{"x":9.52,"y":-14.4},{"x":9.57,"y":-13.5},{"x":9.62,"y":-15.1},{"x":9.67,"y":-13.5},{"x":9.72,"y":-14.1},{"x":9.77,"y":-13.45},{"x":9.82,"y":-14.2},{"x":9.87,"y":-13.5},{"x":9.92,"y":-14.0},{"x":9.97,"y":-13.4},{"x":10.02,"y":-14.1}],
"d9":[{"x":0,"y":-8.5},{"x":0.02,"y":-11.5},{"x":0.05,"y":-10.4},{"x":0.08,"y":-11.9},{"x":0.11,"y":-10.8},{"x":0.14,"y":-11.6},{"x":0.17,"y":-10.6},{"x":0.2,"y":-12.04},{"x":0.23,"y":-11.2},{"x":0.26,"y":-11.7},{"x":0.29,"y":-10.9},{"x":0.32,"y":-11.5},{"x":0.35,"y":-10.8},{"x":0.38,"y":-11.4},{"x":0.42,"y":-10.6},{"x":0.46,"y":-10.3},{"x":0.49,"y":-10.11},{"x":0.53,"y":-10.6},{"x":0.57,"y":-11.0},{"x":0.61,"y":-10.7},{"x":0.65,"y":-11.3},{"x":0.69,"y":-10.9},{"x":0.73,"y":-11.4},{"x":0.77,"y":-11.0},{"x":0.81,"y":-11.7},{"x":0.85,"y":-11.1},{"x":0.89,"y":-11.5},{"x":0.93,"y":-11.2},{"x":0.97,"y":-11.8},{"x":1.01,"y":-11.3},{"x":1.05,"y":-11.6},{"x":1.09,"y":-11.3},{"x":1.13,"y":-11.9},{"x":1.17,"y":-11.4},{"x":1.21,"y":-11.7},{"x":1.25,"y":-11.5},{"x":1.29,"y":-11.95},{"x":1.33,"y":-11.6},{"x":1.37,"y":-11.8},{"x":1.41,"y":-11.55},{"x":1.45,"y":-11.9},{"x":1.49,"y":-11.65},{"x":1.53,"y":-12.0},{"x":1.57,"y":-11.7},{"x":1.61,"y":-11.9},{"x":1.65,"y":-11.75},{"x":1.69,"y":-12.1},{"x":1.73,"y":-11.8},{"x":1.77,"y":-12.0},{"x":1.81,"y":-11.85},{"x":1.85,"y":-12.15},{"x":1.89,"y":-11.9},{"x":1.93,"y":-12.05},{"x":1.97,"y":-11.95},{"x":2.01,"y":-12.2},{"x":2.05,"y":-12.0},{"x":2.09,"y":-12.15},{"x":2.13,"y":-12.05},{"x":2.17,"y":-12.3},{"x":2.21,"y":-12.1},{"x":2.25,"y":-12.25},{"x":2.29,"y":-12.15},{"x":2.33,"y":-12.4},{"x":2.37,"y":-12.2},{"x":2.41,"y":-12.35},{"x":2.45,"y":-12.25},{"x":2.49,"y":-12.45},{"x":2.53,"y":-12.3},{"x":2.57,"y":-12.4},{"x":2.61,"y":-12.35},{"x":2.65,"y":-12.5},{"x":2.69,"y":-12.35},{"x":2.73,"y":-12.45},{"x":2.77,"y":-12.4},{"x":2.81,"y":-12.55},{"x":2.85,"y":-12.45},{"x":2.89,"y":-12.5},{"x":2.93,"y":-12.4},{"x":2.97,"y":-12.55},{"x":3.01,"y":-12.45},{"x":3.05,"y":-12.6},{"x":3.09,"y":-12.5},{"x":3.13,"y":-12.55},{"x":3.17,"y":-12.45},{"x":3.21,"y":-12.6},{"x":3.25,"y":-12.5},{"x":3.29,"y":-12.65},{"x":3.33,"y":-12.55},{"x":3.37,"y":-12.7},{"x":3.41,"y":-12.6},{"x":3.45,"y":-12.75},{"x":3.49,"y":-12.65},{"x":3.53,"y":-12.8},{"x":3.57,"y":-12.6},{"x":3.61,"y":-12.75},{"x":3.65,"y":-12.55},{"x":3.69,"y":-12.65},{"x":3.73,"y":-12.5},{"x":3.77,"y":-12.55},{"x":3.81,"y":-12.45},{"x":3.85,"y":-12.5},{"x":3.89,"y":-12.4},{"x":3.93,"y":-12.45},{"x":3.97,"y":-12.35},{"x":4.01,"y":-12.5},{"x":4.05,"y":-12.6},{"x":4.09,"y":-12.7},{"x":4.13,"y":-12.8},{"x":4.17,"y":-12.9},{"x":4.21,"y":-13.1},{"x":4.24,"y":-13.43},{"x":4.28,"y":-12.9},{"x":4.32,"y":-12.6},{"x":4.36,"y":-13.0},{"x":4.4,"y":-12.5},{"x":4.44,"y":-13.1},{"x":4.48,"y":-12.6},{"x":4.52,"y":-13.2},{"x":4.56,"y":-12.5},{"x":4.6,"y":-13.0},{"x":4.64,"y":-12.55},{"x":4.68,"y":-13.3},{"x":4.72,"y":-12.6},{"x":4.76,"y":-13.1},{"x":4.8,"y":-12.5},{"x":4.84,"y":-13.4},{"x":4.88,"y":-12.6},{"x":4.92,"y":-13.2},{"x":4.96,"y":-12.55},{"x":5.0,"y":-13.0},{"x":5.04,"y":-12.5},{"x":5.08,"y":-13.1},{"x":5.12,"y":-12.45},{"x":5.16,"y":-13.3},{"x":5.2,"y":-12.6},{"x":5.24,"y":-13.2},{"x":5.28,"y":-12.7},{"x":5.32,"y":-13.4},{"x":5.36,"y":-12.8},{"x":5.4,"y":-13.2},{"x":5.44,"y":-12.9},{"x":5.48,"y":-13.5},{"x":5.52,"y":-13.0},{"x":5.56,"y":-13.3},{"x":5.6,"y":-12.9},{"x":5.64,"y":-13.6},{"x":5.68,"y":-13.0},{"x":5.72,"y":-13.4},{"x":5.76,"y":-12.9},{"x":5.8,"y":-13.3},{"x":5.84,"y":-12.8},{"x":5.88,"y":-13.2},{"x":5.93,"y":-12.68},{"x":5.97,"y":-13.2},{"x":6.01,"y":-13.4},{"x":6.05,"y":-13.8},{"x":6.09,"y":-13.3},{"x":6.13,"y":-14.0},{"x":6.17,"y":-13.5},{"x":6.21,"y":-13.9},{"x":6.25,"y":-13.4},{"x":6.29,"y":-14.0},{"x":6.33,"y":-13.5},{"x":6.37,"y":-13.8},{"x":6.41,"y":-13.3},{"x":6.45,"y":-14.1},{"x":6.49,"y":-13.6},{"x":6.53,"y":-13.9},{"x":6.57,"y":-13.5},{"x":6.61,"y":-14.2},{"x":6.64,"y":-15.54},{"x":6.68,"y":-13.9},{"x":6.72,"y":-13.5},{"x":6.76,"y":-13.8},{"x":6.8,"y":-13.2},{"x":6.84,"y":-13.5},{"x":6.88,"y":-13.0},{"x":6.92,"y":-13.3},{"x":6.96,"y":-12.9},{"x":7.0,"y":-13.2},{"x":7.04,"y":-12.8},{"x":7.08,"y":-13.3},{"x":7.12,"y":-12.9},{"x":7.16,"y":-13.2},{"x":7.2,"y":-12.8},{"x":7.24,"y":-13.1},{"x":7.28,"y":-12.9},{"x":7.32,"y":-13.3},{"x":7.36,"y":-12.85},{"x":7.4,"y":-13.1},{"x":7.44,"y":-12.8},{"x":7.48,"y":-13.2},{"x":7.52,"y":-12.8},{"x":7.56,"y":-13.1},{"x":7.6,"y":-12.75},{"x":7.64,"y":-13.0},{"x":7.68,"y":-12.8},{"x":7.72,"y":-13.2},{"x":7.76,"y":-12.75},{"x":7.8,"y":-13.0},{"x":7.84,"y":-12.75},{"x":7.88,"y":-13.1},{"x":7.92,"y":-12.8},{"x":7.96,"y":-12.9},{"x":8.0,"y":-12.71},{"x":8.04,"y":-13.0},{"x":8.08,"y":-12.8},{"x":8.12,"y":-13.1},{"x":8.16,"y":-12.8},{"x":8.2,"y":-13.2},{"x":8.24,"y":-12.85},{"x":8.28,"y":-13.3},{"x":8.32,"y":-12.9},{"x":8.36,"y":-13.2},{"x":8.4,"y":-12.85},{"x":8.44,"y":-13.4},{"x":8.48,"y":-13.0},{"x":8.52,"y":-13.3},{"x":8.56,"y":-13.0},{"x":8.6,"y":-13.6},{"x":8.64,"y":-13.1},{"x":8.68,"y":-13.5},{"x":8.72,"y":-13.2},{"x":8.76,"y":-13.8},{"x":8.8,"y":-13.3},{"x":8.84,"y":-13.6},{"x":8.88,"y":-14.2},{"x":8.92,"y":-14.61},{"x":8.96,"y":-13.8},{"x":9.0,"y":-13.4},{"x":9.04,"y":-13.7},{"x":9.08,"y":-13.1},{"x":9.12,"y":-13.4},{"x":9.16,"y":-12.9},{"x":9.2,"y":-13.2},{"x":9.24,"y":-12.8},{"x":9.29,"y":-12.75},{"x":9.33,"y":-13.2},{"x":9.37,"y":-12.9},{"x":9.41,"y":-13.5},{"x":9.45,"y":-13.0},{"x":9.49,"y":-13.4},{"x":9.53,"y":-12.9},{"x":9.57,"y":-13.3},{"x":9.61,"y":-12.95},{"x":9.65,"y":-13.4},{"x":9.69,"y":-13.0},{"x":9.73,"y":-13.35},{"x":9.77,"y":-12.95},{"x":9.81,"y":-13.3},{"x":9.85,"y":-12.9},{"x":9.89,"y":-13.2},{"x":9.93,"y":-12.9},{"x":9.97,"y":-13.3},{"x":10.01,"y":-13.0}]
},
"columns":2,
"bounds":"flush",
"spacing":{"row":0,"column":23},
"resolve":{"scale":{"color":"independent","strokeDash":"independent"},"legend":{"color":"independent","strokeDash":"independent"}},
"concat":[
 {"width":468,"height":342,
  "title":{"text":"one color","anchor":"middle","dx":-15,"offset":6},
  "layer":[
   {"data":{"name":"a3"},"mark":{"type":"line","clip":true,"strokeWidth":1},
    "encoding":{
     "x":{"field":"x","type":"quantitative","scale":{"domain":[-0.52,13.1],"nice":false,"zero":false},"axis":{"values":[0,2,4,6,8,10,12],"labels":false,"title":null}},
     "y":{"field":"y","type":"quantitative","scale":{"domain":[-15.81,-9.0],"nice":false,"zero":false},"axis":{"values":[-10.5,-12,-13.5,-15],"labelExpr":"datum.value == -12 ? '-12' : (datum.value == -15 ? '-15' : '')","labelPadding":7,"title":"Log₁₀[Harmonic intensity]","titleFontSize":25,"titleAngle":-90,"titleX":-67,"titleY":341,"titleAlign":"center","titleBaseline":"alphabetic"}},
     "color":{"datum":"N=3","type":"nominal","scale":{"domain":["N=3","N=9"],"range":["black","#ff0000"]},"legend":{"title":null}},
     "strokeDash":{"datum":"N=3","type":"nominal","scale":{"domain":["N=3","N=9"],"range":[[1,0],[5,2,1.5,2]]},"legend":{"title":null}}}},
   {"data":{"name":"a9"},"mark":{"type":"line","clip":true,"strokeWidth":1},
    "encoding":{
     "x":{"field":"x","type":"quantitative"},
     "y":{"field":"y","type":"quantitative"},
     "color":{"datum":"N=9","type":"nominal"},
     "strokeDash":{"datum":"N=9","type":"nominal"}}},
   {"data":{"values":[{"x":3.77,"y":-10.52,"y2":-11.15}]},"mark":{"type":"rule","color":"#7f7f7f","strokeWidth":1.8,"strokeDash":[6,3,2,3]},
    "encoding":{"x":{"field":"x","type":"quantitative"},"y":{"field":"y","type":"quantitative"},"y2":{"field":"y2"}}},
   {"data":{"values":[{"x":3.77,"y":-11.25}]},"mark":{"type":"point","shape":"triangle-down","filled":true,"color":"#7f7f7f","size":90,"opacity":1},
    "encoding":{"x":{"field":"x","type":"quantitative"},"y":{"field":"y","type":"quantitative"}}},
   {"data":{"values":[{"x":3.76,"y":-10.32,"t":"0.8Up"}]},"mark":{"type":"text","fontSize":21,"fontWeight":"bold","align":"center","baseline":"middle","color":"black"},
    "encoding":{"x":{"field":"x","type":"quantitative"},"y":{"field":"y","type":"quantitative"},"text":{"field":"t"}}},
   {"data":{"values":[{"x":8.21,"y":-9.65,"t":"(a)"}]},"mark":{"type":"text","fontSize":27,"align":"center","baseline":"middle","color":"black"},
    "encoding":{"x":{"field":"x","type":"quantitative"},"y":{"field":"y","type":"quantitative"},"text":{"field":"t"}}},
   {"data":{"values":[{"x":-0.13,"y":-15.57,"t":"full"}]},"mark":{"type":"text","fontSize":24,"align":"left","baseline":"alphabetic","color":"black"},
    "encoding":{"x":{"field":"x","type":"quantitative"},"y":{"field":"y","type":"quantitative"},"text":{"field":"t"}}}
  ]},
 {"width":267,"height":342,
  "view":{"stroke":null},
  "layer":[
   {"data":{"name":"c3"},"mark":{"type":"line","clip":true,"strokeWidth":1,"color":"black"},
    "encoding":{
     "x":{"field":"x","type":"quantitative","scale":{"domain":[-0.53,9.84],"nice":false,"zero":false},"axis":{"values":[0,2,4,6,8],"labels":false,"title":null}},
     "y":{"field":"y","type":"quantitative","scale":{"domain":[-15.81,-9.0],"nice":false,"zero":false},"axis":{"values":[-10.5,-12,-13.5,-15],"labels":false,"title":null}}}},
   {"data":{"name":"c9"},"mark":{"type":"line","clip":true,"strokeWidth":1,"color":"#ff0000","strokeDash":[5,2,1.5,2]},
    "encoding":{"x":{"field":"x","type":"quantitative"},"y":{"field":"y","type":"quantitative"}}},
   {"data":{"values":[{"y":-9.0}]},"mark":{"type":"rule","color":"black","strokeWidth":1.3},
    "encoding":{"y":{"field":"y","type":"quantitative"}}},
   {"data":{"values":[{"x":6.37,"y":-8.91,"t":"two color"}]},"mark":{"type":"text","fontSize":23,"align":"left","baseline":"alphabetic","color":"black","limit":89,"ellipsis":"\u200b"},
    "encoding":{"x":{"field":"x","type":"quantitative"},"y":{"field":"y","type":"quantitative"},"text":{"field":"t"}}},
   {"data":{"values":[{"x":4.18,"y":-9.77,"y2":-10.4}]},"mark":{"type":"rule","color":"#7f7f7f","strokeWidth":1.8,"strokeDash":[6,3,2,3]},
    "encoding":{"x":{"field":"x","type":"quantitative"},"y":{"field":"y","type":"quantitative"},"y2":{"field":"y2"}}},
   {"data":{"values":[{"x":4.18,"y":-10.54}]},"mark":{"type":"point","shape":"triangle-down","filled":true,"color":"#7f7f7f","size":90,"opacity":1},
    "encoding":{"x":{"field":"x","type":"quantitative"},"y":{"field":"y","type":"quantitative"}}},
   {"data":{"values":[{"x":4.31,"y":-9.56,"t":"1Up"}]},"mark":{"type":"text","fontSize":21,"fontWeight":"bold","align":"center","baseline":"middle","color":"black"},
    "encoding":{"x":{"field":"x","type":"quantitative"},"y":{"field":"y","type":"quantitative"},"text":{"field":"t"}}},
   {"data":{"values":[{"x":0.08,"y":-15.56,"t":"full"}]},"mark":{"type":"text","fontSize":24,"align":"left","baseline":"alphabetic","color":"black"},
    "encoding":{"x":{"field":"x","type":"quantitative"},"y":{"field":"y","type":"quantitative"},"text":{"field":"t"}}}
  ]},
 {"width":468,"height":343,
  "layer":[
   {"data":{"name":"b3"},"mark":{"type":"line","clip":true,"strokeWidth":1,"color":"black"},
    "encoding":{
     "x":{"field":"x","type":"quantitative","scale":{"domain":[-0.52,13.1],"nice":false,"zero":false},"axis":{"values":[0,2,4,6,8,10,12],"labelExpr":"datum.value % 4 == 0 ? datum.label : ''","labelPadding":3,"title":"Harmonic energy (in atomic units of a.u.)","titleFontSize":30,"titleX":483,"titleY":61,"titleAlign":"center","titleBaseline":"alphabetic"}},
     "y":{"field":"y","type":"quantitative","scale":{"domain":[-16.34,-9.0],"nice":false,"zero":false},"axis":{"values":[-10.5,-12,-13.5,-15],"labelExpr":"datum.value == -12 ? '-12' : (datum.value == -15 ? '-15' : '')","labelPadding":7,"title":null}}}},
   {"data":{"name":"b9"},"mark":{"type":"line","clip":true,"strokeWidth":1,"color":"#ff0000","strokeDash":[5,2,1.5,2]},
    "encoding":{"x":{"field":"x","type":"quantitative"},"y":{"field":"y","type":"quantitative"}}},
   {"data":{"values":[{"x":3.75,"y":-10.36,"y2":-11.0}]},"mark":{"type":"rule","color":"#7f7f7f","strokeWidth":1.8,"strokeDash":[6,3,2,3]},
    "encoding":{"x":{"field":"x","type":"quantitative"},"y":{"field":"y","type":"quantitative"},"y2":{"field":"y2"}}},
   {"data":{"values":[{"x":3.75,"y":-11.2}]},"mark":{"type":"point","shape":"triangle-down","filled":true,"color":"#7f7f7f","size":90,"opacity":1},
    "encoding":{"x":{"field":"x","type":"quantitative"},"y":{"field":"y","type":"quantitative"}}},
   {"data":{"values":[{"x":3.73,"y":-10.12,"t":"0.8Up"}]},"mark":{"type":"text","fontSize":21,"fontWeight":"bold","align":"center","baseline":"middle","color":"black"},
    "encoding":{"x":{"field":"x","type":"quantitative"},"y":{"field":"y","type":"quantitative"},"text":{"field":"t"}}},
   {"data":{"values":[{"x":8.21,"y":-9.79,"t":"(b)"}]},"mark":{"type":"text","fontSize":27,"align":"center","baseline":"middle","color":"black"},
    "encoding":{"x":{"field":"x","type":"quantitative"},"y":{"field":"y","type":"quantitative"},"text":{"field":"t"}}},
   {"data":{"values":[{"x":-0.11,"y":-16.1,"t":"short"}]},"mark":{"type":"text","fontSize":24,"align":"left","baseline":"alphabetic","color":"black"},
    "encoding":{"x":{"field":"x","type":"quantitative"},"y":{"field":"y","type":"quantitative"},"text":{"field":"t"}}}
  ]},
 {"width":267,"height":343,
  "view":{"stroke":null},
  "layer":[
   {"data":{"name":"d3"},"mark":{"type":"line","clip":true,"strokeWidth":1,"color":"black"},
    "encoding":{
     "x":{"field":"x","type":"quantitative","scale":{"domain":[-0.53,9.84],"nice":false,"zero":false},"axis":{"values":[0,2,4,6,8],"labelExpr":"datum.value % 4 == 0 ? datum.label : ''","labelPadding":3,"title":null}},
     "y":{"field":"y","type":"quantitative","scale":{"domain":[-16.34,-9.0],"nice":false,"zero":false},"axis":{"values":[-10.5,-12,-13.5,-15],"labels":false,"title":null}}}},
   {"data":{"name":"d9"},"mark":{"type":"line","clip":true,"strokeWidth":1,"color":"#ff0000","strokeDash":[5,2,1.5,2]},
    "encoding":{"x":{"field":"x","type":"quantitative"},"y":{"field":"y","type":"quantitative"}}},
   {"data":{"values":[{"x":4.15,"y":-9.89,"y2":-10.6}]},"mark":{"type":"rule","color":"#7f7f7f","strokeWidth":1.8,"strokeDash":[6,3,2,3]},
    "encoding":{"x":{"field":"x","type":"quantitative"},"y":{"field":"y","type":"quantitative"},"y2":{"field":"y2"}}},
   {"data":{"values":[{"x":4.15,"y":-10.71}]},"mark":{"type":"point","shape":"triangle-down","filled":true,"color":"#7f7f7f","size":90,"opacity":1},
    "encoding":{"x":{"field":"x","type":"quantitative"},"y":{"field":"y","type":"quantitative"}}},
   {"data":{"values":[{"x":4.27,"y":-9.68,"t":"1Up"}]},"mark":{"type":"text","fontSize":21,"fontWeight":"bold","align":"center","baseline":"middle","color":"black"},
    "encoding":{"x":{"field":"x","type":"quantitative"},"y":{"field":"y","type":"quantitative"},"text":{"field":"t"}}},
   {"data":{"values":[{"x":0.17,"y":-16.1,"t":"short"}]},"mark":{"type":"text","fontSize":24,"align":"left","baseline":"alphabetic","color":"black"},
    "encoding":{"x":{"field":"x","type":"quantitative"},"y":{"field":"y","type":"quantitative"},"text":{"field":"t"}}}
  ]}
]
}
